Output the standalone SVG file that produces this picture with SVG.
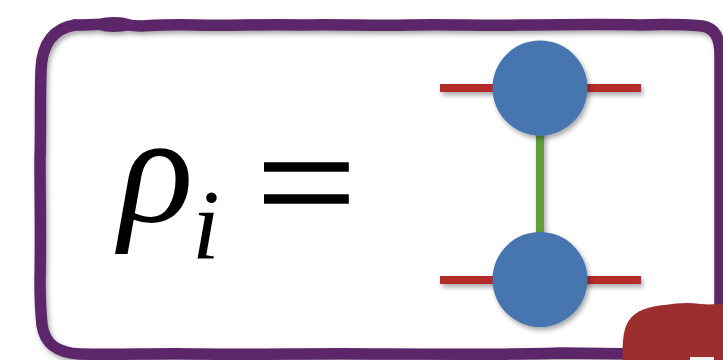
<svg xmlns="http://www.w3.org/2000/svg" width="723" height="360" viewBox="0 0 723 360">
<defs>
<filter id="sh" x="-20%" y="-20%" width="140%" height="140%">
<feDropShadow dx="2" dy="3" stdDeviation="2.5" flood-color="#000" flood-opacity="0.35"/>
</filter>
<style>
.leg{stroke:#B72B2B;stroke-width:8;fill:none}
.bond{stroke:#5F9E3B;stroke-width:8;fill:none}
.node{fill:#4674AF}
.frame{fill:none;stroke:#5B2868;stroke-width:11.5;stroke-linecap:round;stroke-linejoin:round}
</style>
</defs>
<rect width="723" height="360" fill="#fff"/>
<g id="frame" filter="url(#sh)">
<path class="frame" d="M75,25 C90,25 100,24 115,24 C125,24 128,26 140,26 C160,25 175,24 195,25 C230,26 260,24 300,25 C340,24 370,26 410,25 C450,24 480,26 520,25 C560,25 600,24 640,25 C670,24 690,25 702,26 C715,28 720,38 720,55 L720,365"/>
<ellipse cx="114" cy="24.5" rx="22" ry="7.5" fill="#5B2868"/>
<path class="frame" d="M75,25 C55,28 42,42 41,70 C40,100 41,130 40,160 C40,200 41,240 40,280 C40,300 41,315 42,325 C45,345 58,353 80,354 C120,355 160,353 200,354 C260,355 320,353 380,354 C440,354 500,355 560,353 L640,354"/>
</g>
<g id="label" font-family="'Liberation Serif', 'Times New Roman', serif" fill="#000">
<text x="119" y="221" font-size="155" font-style="italic">ρ</text>
<text x="192" y="258" font-size="100" font-style="italic">i</text>
<text transform="translate(256,236) scale(1.13,1)" font-size="158" stroke="#000" stroke-width="1.6">=</text>
</g>
<g id="connectors" filter="url(#sh)">
<line class="leg" x1="440" y1="88" x2="641" y2="88"/>
<line class="leg" x1="440" y1="280" x2="641" y2="280"/>
<line class="bond" x1="540" y1="130" x2="540" y2="240"/>
</g>
<g id="tensor-top" filter="url(#sh)">
<circle class="node" cx="540" cy="88" r="47.5"/>
</g>
<g id="tensor-bottom" filter="url(#sh)">
<circle class="node" cx="540" cy="279.5" r="47.5"/>
</g>
<g id="blob" filter="url(#sh)">
<path d="M623,362 C622,345 623,330 628,322 C635,310 650,306 665,305 C678,303 688,302 700,304 C710,305 718,304 725,304 L725,362 Z" fill="#9C2E2F"/>
<rect x="690" y="357" width="24" height="4" fill="#f2f2f2"/>
</g>
</svg>
